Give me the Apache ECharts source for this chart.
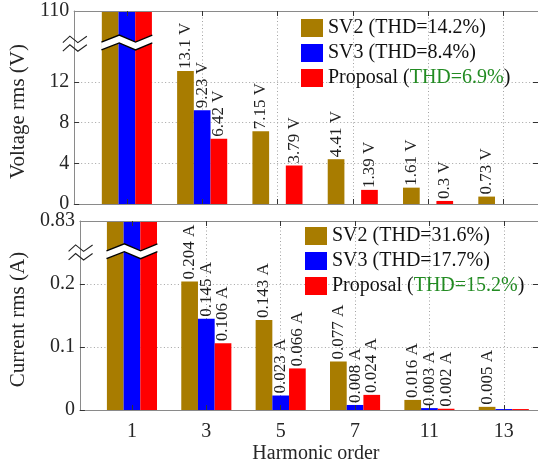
<!DOCTYPE html>
<html>
<head>
<meta charset="utf-8">
<script src="https://cdn.jsdelivr.net/npm/echarts@6/dist/echarts.min.js"></script>
<style>
  html, body { margin: 0; padding: 0; background: #fff; }
  #chart { width: 538px; height: 465px; }
</style>
</head>
<body>
<div id="chart"></div>
<script>
// Harmonic spectra of output voltage and current for three modulation methods
const harmonics = ['1', '3', '5', '7', '11', '13'];
const methods = ['SV2', 'SV3', 'Proposal'];

const sv2Voltage = [110, 13.1, 7.15, 4.41, 1.61, 0.73];
const sv3Voltage = [110, 9.23, null, null, null, null];
const proposalVoltage = [110, 6.42, 3.79, 1.39, 0.3, null];
const voltageTHD = [14.2, 8.4, 6.9];

const sv2Current = [0.83, 0.204, 0.143, 0.077, 0.016, 0.005];
const sv3Current = [0.83, 0.145, 0.023, 0.008, 0.003, 0.0015];
const proposalCurrent = [0.83, 0.106, 0.066, 0.024, 0.002, 0.0015];
const currentTHD = [31.6, 17.7, 15.2];

const voltageTicks = [0, 4, 8, 12];
const voltageTop = 110;
const currentTicks = [0, 0.1, 0.2];
const currentTop = 0.83;

// ---- styling ----
const FONT = "'Liberation Serif', 'Times New Roman', serif";
const COLORS = ['#A87C00', '#0000FF', '#FF0000'];
const GREEN = '#228B22';
const BAR_W = 16.7;
const X_MIN = -0.7, X_MAX = 5.46;
const positions = harmonics.map((_, i) => i);

// drawing order: dotted grid (markLine, z 5) < bars < break band < axes < axis break mark
const Z_BAR = 6, Z_BAND = 7, Z_AXIS = 8, Z_AXIS_BREAK = 9;

const frameLine = { show: true, onZero: false, lineStyle: { color: '#8a8a8a', width: 1 } };
const tickLine = { color: '#333', width: 1 };
const gridLineStyle = { color: '#a3a3a3', width: 1, type: [1, 2.5] };

// Each panel: upper part of the axis is broken so the fundamental fits
const panels = [
  {
    top: 11, height: 193, yName: 'Voltage rms (V)', unit: 'V',
    visibleMax: 19, ticks: voltageTicks, topLabel: voltageTop, breakAt: 15.9,
    thd: voltageTHD, values: [sv2Voltage, sv3Voltage, proposalVoltage],
    unlabelled: [], legendLeft: 301, legendTop: 18, nameGap: 43
  },
  {
    top: 221, height: 193, yName: 'Current rms (A)', unit: 'A',
    visibleMax: 0.3, ticks: currentTicks, topLabel: currentTop, breakAt: 0.252,
    thd: currentTHD, values: [sv2Current, sv3Current, proposalCurrent],
    unlabelled: [[1, 5], [2, 5]], legendLeft: 305, legendTop: 226, nameGap: 47
  }
];

const grid = [], xAxis = [], yAxis = [], series = [], legend = [];

function zigzag(xs, cy, amp) {
  return xs.map((x, i) => [x, cy + (i % 2 === 0 ? amp : -amp)]);
}

panels.forEach((p, k) => {
  grid.push({ left: 73, right: 0, top: p.top, height: p.height });
  const ax = k * 2;
  const xBase = { type: 'value', gridIndex: k, min: X_MIN, max: X_MAX, z: Z_AXIS };
  const yBase = { type: 'value', gridIndex: k, min: 0, max: p.visibleMax, z: Z_AXIS };
  const innerTicks = p.ticks.filter(v => v > 0);
  const labelPos = p.ticks.concat([p.visibleMax]);
  const fmtY = v => (v >= p.visibleMax - 1e-9 ? String(p.topLabel) : String(Math.round(v * 1000) / 1000));

  xAxis.push(
    { ...xBase, position: 'bottom',
      axisLine: frameLine,
      axisTick: { show: true, inside: true, length: 5, customValues: positions, lineStyle: tickLine },
      axisLabel: { show: k === 1, customValues: positions, margin: 12,
        formatter: v => harmonics[Math.round(v)],
        fontFamily: FONT, fontSize: 20, color: '#262626' },
      splitLine: { show: false },
      name: k === 1 ? 'Harmonic order' : '', nameLocation: 'middle', nameGap: 34,
      nameTextStyle: { fontFamily: FONT, fontSize: 20, color: '#262626', padding: [0, 0, 0, 14] } },
    { ...xBase, position: 'top',
      axisLine: frameLine,
      axisTick: { show: true, inside: true, length: 5, customValues: positions, lineStyle: tickLine },
      axisLabel: { show: false }, splitLine: { show: false } }
  );

  yAxis.push(
    { ...yBase, position: 'left',
      axisLine: frameLine,
      axisTick: { show: true, inside: true, length: 5, customValues: p.ticks, lineStyle: tickLine },
      axisLabel: { customValues: labelPos, formatter: fmtY, margin: 5,
        fontFamily: FONT, fontSize: 20, color: '#262626' },
      splitLine: { show: false },
      name: p.yName, nameLocation: 'middle', nameGap: p.nameGap,
      nameTextStyle: { fontFamily: FONT, fontSize: 21, color: '#262626', padding: [0, 8, 0, 0] } },
    { ...yBase, position: 'right',
      axisLine: frameLine,
      axisTick: { show: true, inside: true, length: 5, customValues: innerTicks, lineStyle: tickLine },
      axisLabel: { show: false }, splitLine: { show: false } }
  );

  // dotted grid behind the bars: markLines on a data-less line series
  series.push({
    type: 'line', xAxisIndex: ax, yAxisIndex: ax, silent: true, data: [],
    markLine: {
      silent: true, symbol: 'none', animation: false,
      label: { show: false },
      lineStyle: gridLineStyle,
      emphasis: { disabled: true },
      data: positions.map(i => ({ xAxis: i })).concat(innerTicks.map(v => ({ yAxis: v })))
    }
  });

  const names = methods.map((m, j) => `${m} (THD=${p.thd[j]}%)`);

  methods.forEach((m, j) => {
    const data = [];
    p.values[j].forEach((v, i) => {
      if (v === null) return;
      const hide = i === 0 || p.unlabelled.some(([s, h]) => s === j && h === i);
      data.push({ value: [i, v], label: { show: !hide } });
    });
    series.push({
      type: 'bar', name: names[j], xAxisIndex: ax, yAxisIndex: ax,
      barWidth: BAR_W, barGap: '0%', clip: true, z: Z_BAR,
      itemStyle: { color: COLORS[j] },
      data,
      label: {
        position: 'top', rotate: 90, align: 'left', verticalAlign: 'middle', distance: 2,
        fontFamily: FONT, fontSize: 17, color: '#1f1f1f',
        formatter: prm => `${prm.value[1]} ${p.unit}`
      }
    });
  });

  // break mark across the fundamental bars
  series.push({
    type: 'custom', xAxisIndex: ax, yAxisIndex: ax, z: Z_BAND, silent: true,
    data: [[0, p.breakAt]],
    renderItem: (params, api) => {
      const c = api.coord([api.value(0), api.value(1)]);
      const half = 1.5 * BAR_W + 0.4;
      const L = c[0] - half, W = 2 * half;
      const xs = [L, L + 0.35 * W, L + 0.67 * W, L + W];
      const upper = zigzag(xs, c[1] - 3.9, 3.5);
      const lower = zigzag(xs, c[1] + 3.9, 3.5);
      return {
        type: 'group',
        children: [
          { type: 'polygon', shape: { points: upper.concat(lower.slice().reverse()) },
            style: { fill: '#fff', stroke: null } },
          { type: 'polyline', shape: { points: upper }, style: { stroke: '#000', lineWidth: 1.4, fill: null } },
          { type: 'polyline', shape: { points: lower }, style: { stroke: '#000', lineWidth: 1.4, fill: null } }
        ]
      };
    }
  });

  // break mark on the value axis
  series.push({
    type: 'custom', xAxisIndex: ax, yAxisIndex: ax, z: Z_AXIS_BREAK, silent: true,
    data: [[X_MIN, p.breakAt]],
    renderItem: (params, api) => {
      const c = api.coord([api.value(0), api.value(1)]);
      const xs = [c[0] - 11.3, c[0] - 4.3, c[0] + 3.7, c[0] + 12.7];
      const cy = c[1] + 1.2;
      const upper = zigzag(xs, cy - 4.3, 3.2);
      const lower = zigzag(xs, cy + 4.3, 3.2);
      return {
        type: 'group',
        children: [
          { type: 'polyline', shape: { points: upper }, style: { stroke: '#222', lineWidth: 1.1, fill: null } },
          { type: 'polyline', shape: { points: lower }, style: { stroke: '#222', lineWidth: 1.1, fill: null } }
        ]
      };
    }
  });

  legend.push({
    data: names, orient: 'vertical', left: p.legendLeft, top: p.legendTop,
    padding: 0, itemWidth: 22, itemHeight: 18, itemGap: 5, icon: 'rect',
    selectedMode: false, z: Z_AXIS_BREAK,
    textStyle: {
      fontFamily: FONT, fontSize: 20, color: '#111', lineHeight: 20,
      rich: { g: { fontFamily: FONT, fontSize: 20, color: GREEN, lineHeight: 20 } }
    },
    formatter: n => (n.startsWith('Proposal') ? n.replace(/(THD=[\d.]+%)/, '{g|$1}') : n)
  });
});

const chart = echarts.init(document.getElementById('chart'), null, { renderer: 'canvas' });
chart.setOption({
  animation: false,
  backgroundColor: '#fff',
  grid, xAxis, yAxis, legend, series
});
</script>
</body>
</html>
